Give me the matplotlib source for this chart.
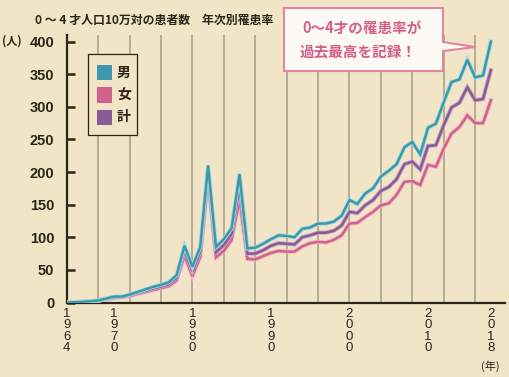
import matplotlib
matplotlib.use("Agg")
import matplotlib.pyplot as plt
import matplotlib.patheffects as pe
from matplotlib.patches import Rectangle, Polygon
from matplotlib import font_manager

years = list(range(1964, 2019))
male = [0, 0.5, 1, 2, 3, 6, 9, 9, 12, 16, 20, 24, 27, 31, 42, 87, 55, 85, 210, 85,
        97, 114, 197, 83, 84, 90, 97, 103, 102, 100, 113, 115, 121, 121, 124, 133, 157, 151, 167, 175,
        193, 202, 212, 238, 246, 227, 268, 274, 307, 338, 342, 372, 345, 348, 400]
female = [0, 0.4, 0.8, 1.5, 2.5, 5, 7, 8, 10, 13, 16, 19, 22, 25, 34, 72, 40, 70, 190, 69,
          79, 96, 158, 67, 66, 71, 76, 79, 78, 78, 86, 91, 93, 92, 96, 103, 121, 122, 131, 139,
          149, 152, 165, 185, 186, 180, 211, 208, 236, 259, 269, 287, 275, 275, 310]
total = [0, 0.45, 0.9, 1.8, 2.8, 5.5, 8, 8.5, 11, 14.5, 18, 21.5, 24.5, 28, 38, 80, 48, 78, 200, 77,
         88, 105, 178, 75, 75, 80, 87, 91, 90, 89, 100, 103, 107, 107, 110, 118, 139, 137, 149, 157,
         171, 177, 189, 212, 216, 204, 240, 241, 272, 299, 306, 330, 310, 312, 356]

series_names = ["男", "女", "計"]
xtick_years = [1964, 1970, 1980, 1990, 2000, 2010, 2018]
ytick_vals = [0, 50, 100, 150, 200, 250, 300, 350, 400]
grid_years = list(range(1968, 2017, 4))

title = "0 ～ 4 才人口10万対の患者数　年次別罹患率"
callout1 = "0～4才の罹患率が"
callout2 = "過去最高を記録！"

W, H = 510, 377
BG = "#f2e4c6"
DARK = "#2b2419"
C_M = "#3c98ad"
C_F = "#d0628c"
C_T = "#8a5b96"
CJK = ["Noto Sans CJK JP", "DejaVu Sans"]

names = {f.name for f in font_manager.fontManager.ttflist}
NUMFONT = "Liberation Sans Narrow" if "Liberation Sans Narrow" in names else "Liberation Sans"
NUMSIZE = 13 if NUMFONT == "Liberation Sans Narrow" else 10.5

fig = plt.figure(figsize=(W / 100, H / 100), dpi=100, facecolor=BG)

def fx(px):
    return px / W

def fy(py):
    return 1 - py / H

ax_l, ax_r, ax_t, ax_b = 66.7, 505, 35, 302.5
ax = fig.add_axes([fx(ax_l), fy(ax_b), (ax_r - ax_l) / W, (ax_b - ax_t) / H])
ax.set_facecolor(BG)
ax.set_xlim(1964, 2019.8)
ax.set_ylim(0, 410)

for g in grid_years:
    ax.axvline(g, color="#a59c88", lw=1.1, zorder=1)

def draw(vals, col, halo):
    ax.plot(years, vals, color=col, lw=1.8, solid_joinstyle="miter", zorder=3,
            path_effects=[pe.Stroke(linewidth=3.0, foreground=halo), pe.Normal()])

draw(female, C_F, "#f2b6c6")
draw(total, C_T, "#c4a8c8")
draw(male, C_M, "#a8dcdc")

for s in ["top", "right"]:
    ax.spines[s].set_visible(False)
for s in ["left", "bottom"]:
    ax.spines[s].set_color(DARK)
    ax.spines[s].set_linewidth(1.6)

ax.set_yticks(ytick_vals)
ax.set_yticklabels([str(v) for v in ytick_vals],
                   fontdict={"family": [NUMFONT, "DejaVu Sans"],
                             "weight": "bold", "size": NUMSIZE})
ax.tick_params(axis="y", direction="in", length=6, width=1.8, color=DARK,
               labelcolor=DARK, pad=9)
ax.set_xticks(xtick_years)
ax.set_xticklabels(["\n".join(str(y)) for y in xtick_years],
                   fontdict={"family": "Liberation Sans", "size": 9.5},
                   linespacing=0.92)
ax.tick_params(axis="x", length=0, pad=4, labelcolor=DARK)

# title and unit labels
fig.text(fx(35), fy(20), title, fontsize=8.6, fontweight="bold", color=DARK,
         family=CJK, ha="left", va="center")
fig.text(fx(2), fy(41.5), "(人)", fontsize=8, color=DARK, family=CJK,
         ha="left", va="center", fontweight="bold")
fig.text(fx(490), fy(366), "(年)", fontsize=8, color=DARK, family=CJK,
         ha="center", va="center")

# legend box
fig.add_artist(Rectangle((fx(88), fy(135)), (137 - 88) / W, (135 - 54) / H,
                         transform=fig.transFigure, facecolor=BG,
                         edgecolor=DARK, lw=0.9, zorder=5))
for name, col, yc in zip(series_names, [C_M, C_F, C_T], [72.5, 95, 117]):
    fig.add_artist(Rectangle((fx(97), fy(yc + 7.5)), 15 / W, 15 / H,
                             transform=fig.transFigure, facecolor=col,
                             edgecolor="none", zorder=6))
    fig.text(fx(117), fy(yc), name, fontsize=10, fontweight="bold",
             color=DARK, family=CJK, ha="left", va="center", zorder=7)

# callout
pts = [(284, 8), (443, 8), (443, 42), (475, 47), (443, 51), (443, 71), (284, 71)]
fig.add_artist(Polygon([(fx(x), fy(y)) for x, y in pts], closed=True,
                       transform=fig.transFigure, facecolor="#fdfaf6",
                       edgecolor="#e2869f", lw=1.5, zorder=8))
fig.text(fx(362), fy(28), callout1, fontsize=10.5, fontweight="bold",
         color="#d45e88", family=CJK, ha="center", va="center", zorder=9)
fig.text(fx(358), fy(52), callout2, fontsize=10.5, fontweight="bold",
         color="#d45e88", family=CJK, ha="center", va="center", zorder=9)

fig.savefig("out.png", dpi=100, facecolor=BG)
